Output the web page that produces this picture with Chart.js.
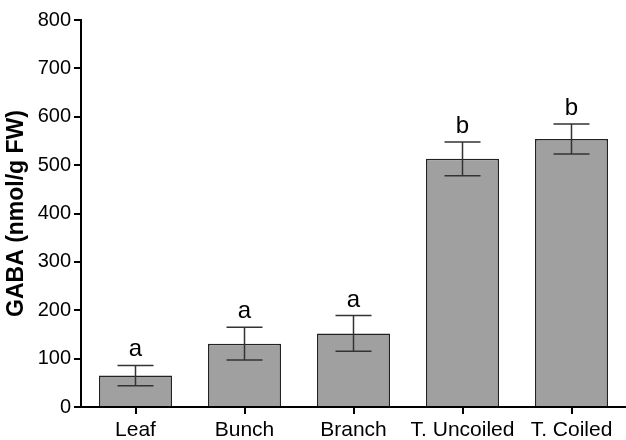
<!DOCTYPE html>
<html>
<head>
<meta charset="utf-8">
<script src="https://cdn.jsdelivr.net/npm/chart.js@4.4.1/dist/chart.umd.min.js"></script>
<style>
  html, body { margin: 0; padding: 0; background: #fff; }
  #wrap { width: 626px; height: 440px; }
</style>
</head>
<body>
<div id="wrap"><canvas id="c" width="626" height="440"></canvas></div>
<script>
// GABA content per tissue (nmol/g FW), mean ± error
const categories = ['Leaf', 'Bunch', 'Branch', 'T. Uncoiled', 'T. Coiled'];
const gabaMeans  = [65, 131, 152, 513, 554];
const gabaErrors = [21, 34, 37, 35, 31];
const groupLetters = ['a', 'a', 'a', 'b', 'b'];
const yTicks = [0, 100, 200, 300, 400, 500, 600, 700, 800];

const FONT = '"Liberation Sans", Arial, Helvetica, sans-serif';

// Error bars with caps, plus significance letters above each bar
const errorBarPlugin = {
  id: 'errorBars',
  afterDatasetsDraw(chart) {
    const ctx = chart.ctx;
    const y = chart.scales.y;
    const meta = chart.getDatasetMeta(0);
    ctx.save();
    ctx.strokeStyle = '#333';
    ctx.lineWidth = 1.5;
    meta.data.forEach((bar, i) => {
      const cx = bar.x;
      const yHi = y.getPixelForValue(gabaMeans[i] + gabaErrors[i]);
      const yLo = y.getPixelForValue(gabaMeans[i] - gabaErrors[i]);
      const half = 18;
      ctx.beginPath();
      ctx.moveTo(cx, yHi); ctx.lineTo(cx, yLo);
      ctx.moveTo(cx - half, yHi); ctx.lineTo(cx + half, yHi);
      ctx.moveTo(cx - half, yLo); ctx.lineTo(cx + half, yLo);
      ctx.stroke();
      ctx.fillStyle = '#000';
      ctx.font = '24px ' + FONT;
      ctx.textAlign = 'center';
      ctx.textBaseline = 'alphabetic';
      ctx.fillText(groupLetters[i], cx, yHi - 9);
    });
    ctx.restore();
  }
};

new Chart(document.getElementById('c'), {
  type: 'bar',
  data: {
    labels: categories,
    datasets: [{
      data: gabaMeans,
      backgroundColor: '#a0a0a0',
      borderColor: '#222',
      borderWidth: 1.5,
      barPercentage: 0.67,
      categoryPercentage: 1.0
    }]
  },
  options: {
    responsive: false,
    animation: false,
    devicePixelRatio: 1,
    layout: { padding: { top: 20, right: 0, left: 0, bottom: 0 } },
    plugins: { legend: { display: false }, tooltip: { enabled: false } },
    scales: {
      x: {
        grid: { offset: false, drawOnChartArea: false, drawTicks: true, tickLength: 7, color: '#000', lineWidth: 2 },
        border: { display: true, color: '#000', width: 2 },
        ticks: { color: '#000', font: { family: FONT, size: 21 }, padding: 4, maxRotation: 0, autoSkip: false },
        afterFit(scale) { scale.height = 33; }
      },
      y: {
        min: 0, max: 800,
        afterBuildTicks(scale) { scale.ticks = yTicks.map(v => ({ value: v })); },
        grid: { drawOnChartArea: false, drawTicks: true, tickLength: 7, color: '#000', lineWidth: 2 },
        border: { display: true, color: '#000', width: 2 },
        ticks: { color: '#000', font: { family: FONT, size: 20 }, padding: 3 },
        title: {
          display: true,
          text: 'GABA (nmol/g FW)',
          color: '#000',
          font: { family: FONT, size: 23, weight: 'bold' },
          padding: { top: 3, bottom: 0 }
        },
        afterFit(scale) { scale.width = 81; }
      }
    }
  },
  plugins: [errorBarPlugin]
});
</script>
</body>
</html>
